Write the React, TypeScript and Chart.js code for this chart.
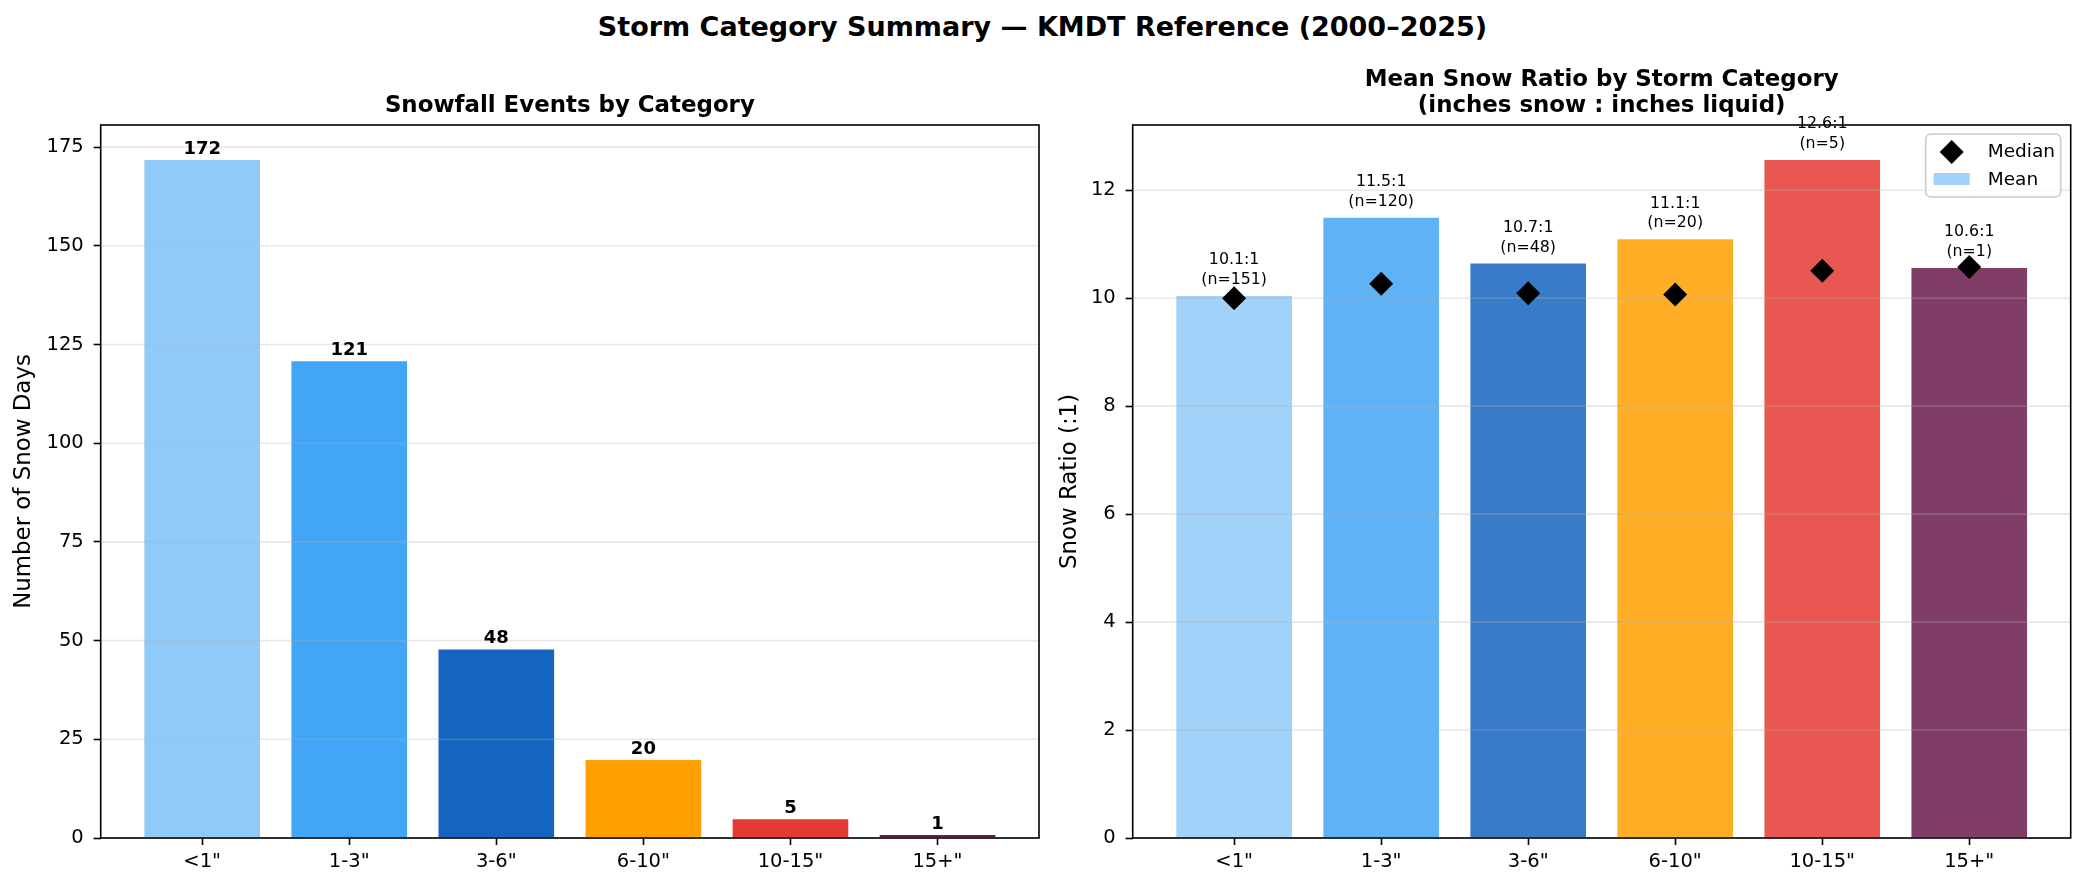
import { useEffect, useRef } from 'react';
import { Chart, registerables } from 'chart.js';

Chart.register(...registerables);

const FONT = "'DejaVu Sans', 'Liberation Sans', sans-serif";
Chart.defaults.font.family = FONT;
Chart.defaults.color = '#000';

// data
const categories = ['<1"', '1-3"', '3-6"', '6-10"', '10-15"', '15+"'];
const eventCounts = [172, 121, 48, 20, 5, 1];
const meanRatios = [10.06, 11.51, 10.66, 11.11, 12.58, 10.58];
const medianRatios = [10.0, 10.27, 10.09, 10.07, 10.51, 10.58];
const ratioCounts = [151, 120, 48, 20, 5, 1];
const countTicks = [0, 25, 50, 75, 100, 125, 150, 175];
const ratioTicks = [0, 2, 4, 6, 8, 10, 12];

const barColors = ['#90CAF9', '#42A5F5', '#1565C0', '#FFA000', '#E53935', '#6A1B4A'];

const GRID = 'rgba(176,176,176,0.3)';
const TICK_SIZE = 19.5;

function withAlpha(hex: string, a: number) {
  const n = parseInt(hex.slice(1), 16);
  return `rgba(${(n >> 16) & 255},${(n >> 8) & 255},${n & 255},${a})`;
}

// matplotlib-style x limits for bars of width 0.8
const span = categories.length - 1 + 0.8;
const xMin = -0.4 - 0.05 * span;
const xMax = categories.length - 1 + 0.4 + 0.05 * span;

function xScale() {
  return {
    type: 'linear',
    min: xMin,
    max: xMax,
    offset: false,
    grid: { drawOnChartArea: false, offset: false, tickLength: 7, tickColor: '#000', tickWidth: 1.6 },
    border: { display: false },
    afterBuildTicks: (s: any) => {
      s.ticks = categories.map((_, i) => ({ value: i }));
    },
    afterFit: (s: any) => {
      s.height = 50;
    },
    ticks: {
      color: '#000',
      font: { size: TICK_SIZE },
      padding: 5,
      autoSkip: false,
      maxRotation: 0,
      callback: (v: any) => categories[v] ?? '',
    },
  };
}

function yScale(ticks: number[], max: number, title: string, titlePad: number, width: number) {
  return {
    type: 'linear',
    min: 0,
    max,
    grid: { drawOnChartArea: false, tickLength: 7, tickColor: '#000', tickWidth: 1.6 },
    border: { display: false },
    afterBuildTicks: (s: any) => {
      s.ticks = ticks.map((v) => ({ value: v }));
    },
    afterFit: (s: any) => {
      s.width = width;
    },
    ticks: { color: '#000', font: { size: TICK_SIZE }, padding: 10 },
    title: { display: true, text: title, color: '#000', font: { size: 22.9 }, padding: { top: titlePad, bottom: 0 } },
  };
}

// grid above bars (like matplotlib), bar labels, frame and titles
function decorPlugin(
  ticks: number[],
  titleLines: string[],
  drawLabels: (chart: any) => void,
  extra?: (chart: any) => void
) {
  return {
    id: 'decor',
    afterDatasetDraw(chart: any, args: any) {
      if (args.index !== 0) return;
      const { ctx, chartArea: a } = chart;
      const y = chart.scales.y;
      ctx.save();
      ctx.strokeStyle = GRID;
      ctx.lineWidth = 1.6;
      ticks.forEach((t) => {
        const py = y.getPixelForValue(t);
        ctx.beginPath();
        ctx.moveTo(a.left, py);
        ctx.lineTo(a.right, py);
        ctx.stroke();
      });
      ctx.restore();
      drawLabels(chart);
    },
    afterDraw(chart: any) {
      const { ctx, chartArea: a } = chart;
      ctx.save();
      ctx.strokeStyle = '#000';
      ctx.lineWidth = 1.6;
      ctx.strokeRect(a.left, a.top, a.right - a.left, a.bottom - a.top);
      ctx.fillStyle = '#000';
      ctx.font = `bold 22.9px ${FONT}`;
      ctx.textAlign = 'center';
      ctx.textBaseline = 'alphabetic';
      const cx = (a.left + a.right) / 2;
      titleLines.forEach((line, i) => {
        ctx.fillText(line, cx, a.top - 13 - (titleLines.length - 1 - i) * 26);
      });
      ctx.restore();
      if (extra) extra(chart);
    },
  };
}

function CountChart() {
  const canvasRef = useRef<HTMLCanvasElement | null>(null);

  useEffect(() => {
    if (!canvasRef.current) return;

    const drawLabels = (chart: any) => {
      const { ctx } = chart;
      const meta = chart.getDatasetMeta(0);
      ctx.save();
      ctx.fillStyle = '#000';
      ctx.font = `bold 18px ${FONT}`;
      ctx.textAlign = 'center';
      ctx.textBaseline = 'alphabetic';
      meta.data.forEach((bar: any, i: number) => {
        ctx.fillText(String(eventCounts[i]), bar.x, bar.y - 5);
      });
      ctx.restore();
    };

    const chart = new Chart(canvasRef.current, {
      type: 'bar',
      data: {
        datasets: [
          {
            data: eventCounts.map((v, i) => ({ x: i, y: v })),
            backgroundColor: barColors,
            borderColor: 'rgba(255,255,255,0.8)',
            borderWidth: 1,
            barPercentage: 1,
            categoryPercentage: 0.8,
          },
        ],
      },
      options: {
        responsive: true,
        maintainAspectRatio: false,
        animation: false,
        layout: { padding: { top: 125, right: 4, left: 0, bottom: 0 } },
        plugins: { legend: { display: false }, tooltip: { enabled: false } },
        scales: {
          x: xScale(),
          y: yScale(countTicks, Math.max(...eventCounts) * 1.05, 'Number of Snow Days', 10.3, 100.7),
        },
      } as any,
      plugins: [decorPlugin(countTicks, ['Snowfall Events by Category'], drawLabels)],
    });

    return () => {
      chart.destroy();
    };
  }, []);

  return (
    <div style={{ position: 'absolute', left: 0, top: 0, width: 1043, height: 888 }}>
      <canvas ref={canvasRef} />
    </div>
  );
}

function RatioChart() {
  const canvasRef = useRef<HTMLCanvasElement | null>(null);

  useEffect(() => {
    if (!canvasRef.current) return;

    const drawLabels = (chart: any) => {
      const { ctx } = chart;
      const meta = chart.getDatasetMeta(0);
      ctx.save();
      ctx.fillStyle = '#000';
      ctx.font = `15.8px ${FONT}`;
      ctx.textAlign = 'center';
      ctx.textBaseline = 'alphabetic';
      meta.data.forEach((bar: any, i: number) => {
        const base = bar.y - 11;
        ctx.fillText(`${meanRatios[i].toFixed(1)}:1`, bar.x, base - 19.5);
        ctx.fillText(`(n=${ratioCounts[i]})`, bar.x, base);
      });
      ctx.restore();
    };

    const drawLegend = (chart: any) => {
      const { ctx, chartArea: a } = chart;
      const w = 135;
      const h = 63;
      const left = a.right - 10 - w;
      const top = a.top + 9;
      ctx.save();
      ctx.beginPath();
      ctx.roundRect(left, top, w, h, 5);
      ctx.fillStyle = 'rgba(255,255,255,0.8)';
      ctx.fill();
      ctx.strokeStyle = '#cccccc';
      ctx.lineWidth = 1.6;
      ctx.stroke();

      // median diamond
      const dx = left + 26;
      const dy = top + 18;
      ctx.beginPath();
      ctx.moveTo(dx, dy - 12);
      ctx.lineTo(dx + 12, dy);
      ctx.lineTo(dx, dy + 12);
      ctx.lineTo(dx - 12, dy);
      ctx.closePath();
      ctx.fillStyle = '#000';
      ctx.fill();

      // mean patch
      ctx.fillStyle = withAlpha(barColors[0], 0.85);
      ctx.fillRect(left + 8, top + 39, 36, 12);

      ctx.fillStyle = '#000';
      ctx.font = `18.5px ${FONT}`;
      ctx.textAlign = 'left';
      ctx.textBaseline = 'middle';
      ctx.fillText('Median', left + 62, top + 18);
      ctx.fillText('Mean', left + 62, top + 46);
      ctx.restore();
    };

    const chart = new Chart(canvasRef.current, {
      type: 'bar',
      data: {
        datasets: [
          {
            type: 'bar',
            label: 'Mean',
            data: meanRatios.map((v, i) => ({ x: i, y: v })),
            backgroundColor: barColors.map((c) => withAlpha(c, 0.85)),
            borderColor: 'rgba(255,255,255,0.7)',
            borderWidth: 1,
            barPercentage: 1,
            categoryPercentage: 0.8,
            order: 1,
          },
          {
            type: 'scatter',
            label: 'Median',
            data: medianRatios.map((v, i) => ({ x: i, y: v })),
            pointStyle: 'rectRot',
            pointRadius: 12,
            backgroundColor: '#000',
            borderColor: '#000',
            borderWidth: 0,
            order: 0,
          },
        ],
      },
      options: {
        responsive: true,
        maintainAspectRatio: false,
        animation: false,
        layout: { padding: { top: 125, right: 14.3, left: 0, bottom: 0 } },
        plugins: { legend: { display: false }, tooltip: { enabled: false } },
        scales: {
          x: xScale(),
          y: yScale(ratioTicks, Math.max(...meanRatios) * 1.05, 'Snow Ratio (:1)', 13.3, 89.7),
        },
      } as any,
      plugins: [
        decorPlugin(
          ratioTicks,
          ['Mean Snow Ratio by Storm Category', '(inches snow : inches liquid)'],
          drawLabels,
          drawLegend
        ),
      ],
    });

    return () => {
      chart.destroy();
    };
  }, []);

  return (
    <div style={{ position: 'absolute', left: 1043, top: 0, width: 1042, height: 888 }}>
      <canvas ref={canvasRef} />
    </div>
  );
}

export default function App() {
  return (
    <div
      style={{
        position: 'absolute',
        left: 0,
        top: 0,
        width: 2085,
        height: 888,
        background: '#fff',
        fontFamily: FONT,
        overflow: 'hidden',
      }}
    >
      <div
        style={{
          position: 'absolute',
          left: 0,
          top: 11,
          width: 2085,
          textAlign: 'center',
          fontSize: 27,
          fontWeight: 'bold',
          lineHeight: '32px',
          color: '#000',
        }}
      >
        Storm Category Summary — KMDT Reference (2000–2025)
      </div>
      <CountChart />
      <RatioChart />
    </div>
  );
}
